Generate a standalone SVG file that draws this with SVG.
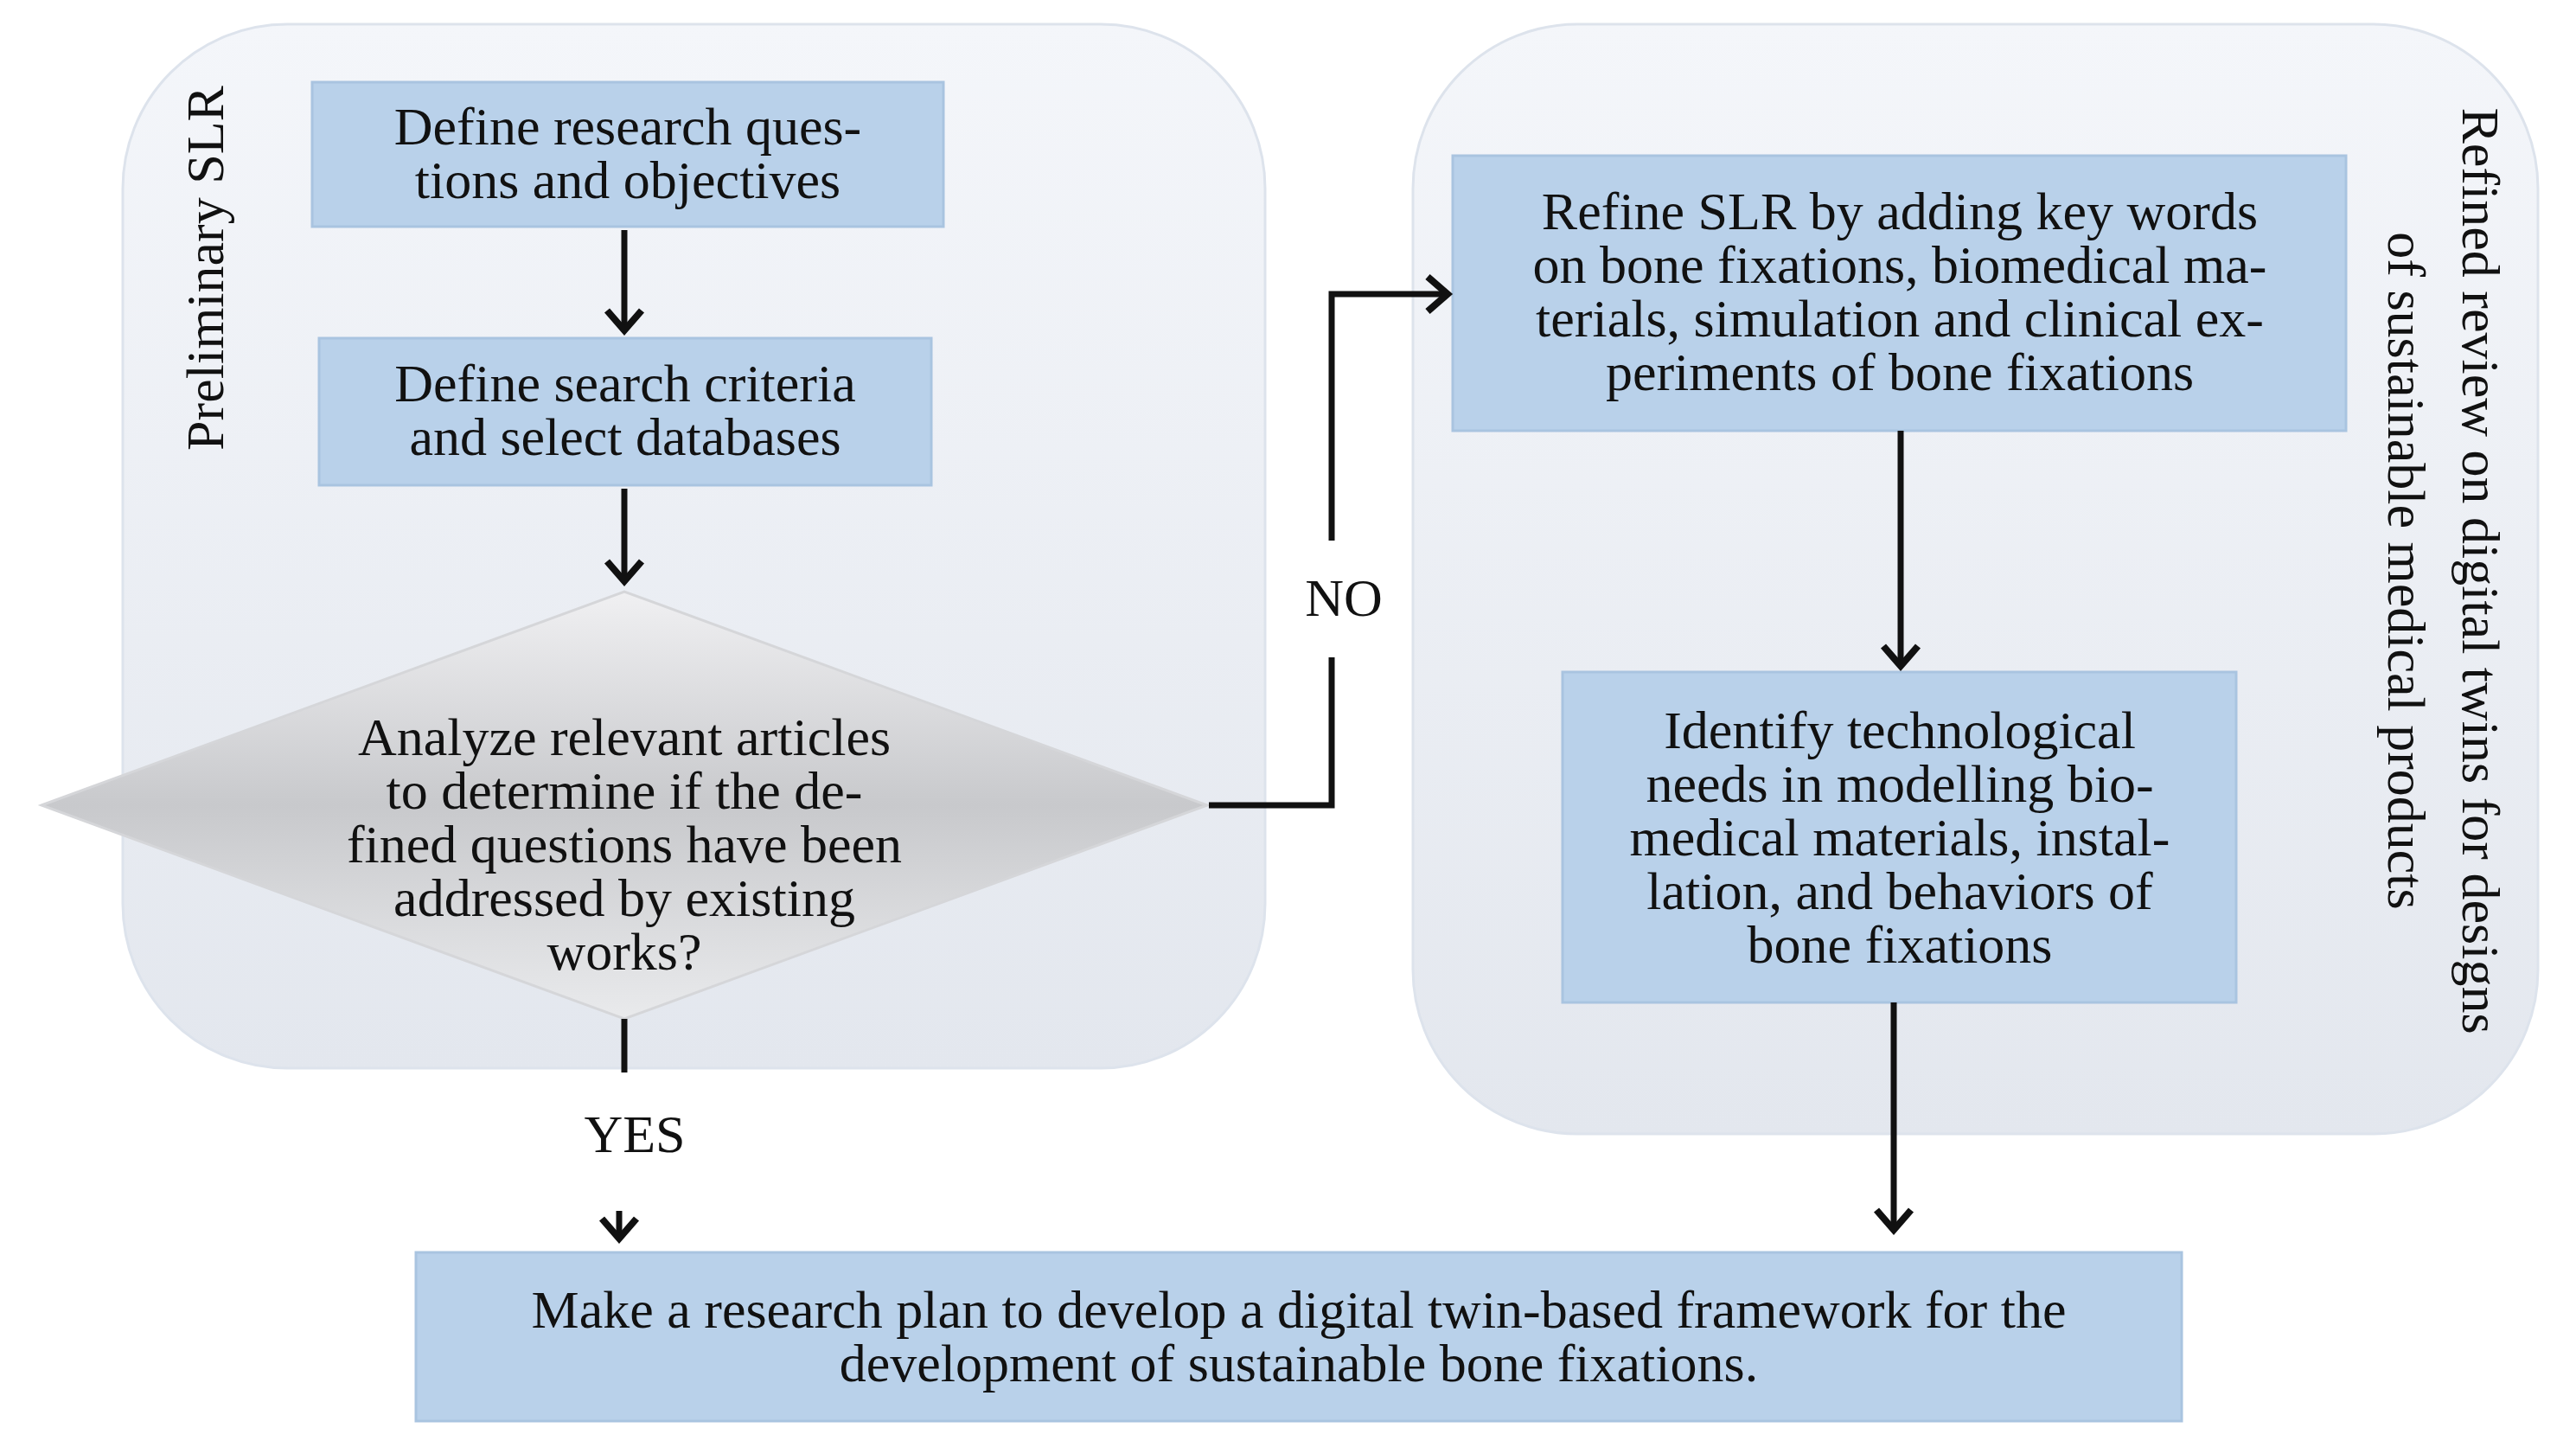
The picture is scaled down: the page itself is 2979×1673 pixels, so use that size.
<svg xmlns="http://www.w3.org/2000/svg" width="2979" height="1673" viewBox="0 0 2979 1673">
<style>
text{font-family:"Liberation Serif","DejaVu Serif",serif;font-size:62px;fill:#111;text-anchor:middle}
.box{fill:#b9d1ea;stroke:#a9c4e0;stroke-width:3}
.panel{fill:url(#pg);stroke:#dde3ec;stroke-width:3}
.ln{fill:none;stroke:#111;stroke-width:7}
</style>
<defs>
<linearGradient id="pg" x1="0" y1="0" x2="0" y2="1"><stop offset="0" stop-color="#f4f6fa"/><stop offset="1" stop-color="#e3e7ee"/></linearGradient>
<linearGradient id="dg" x1="0" y1="0" x2="0" y2="1"><stop offset="0" stop-color="#f0f0f2"/><stop offset="0.5" stop-color="#c8c9cc"/><stop offset="1" stop-color="#e9eaec"/></linearGradient>
<marker id="ah" markerWidth="12" markerHeight="12" refX="9" refY="6" orient="auto" markerUnits="userSpaceOnUse" viewBox="0 0 12 12" style="overflow:visible"><path d="M-14,-14 L9,6 L-14,26" fill="none" stroke="#111" stroke-width="8"/></marker>
</defs>
<g id="panel-left"><rect class="panel" x="142" y="28" width="1321" height="1207" rx="190"/>
<text transform="translate(258,310) rotate(-90)">Preliminary SLR</text></g>
<g id="panel-right"><rect class="panel" x="1634" y="28" width="1301" height="1283" rx="190"/>
<text transform="translate(2848,660) rotate(90)">Refined review on digital twins for designs</text>
<text transform="translate(2762,660) rotate(90)">of sustainable medical products</text></g>
<g id="box1"><rect class="box" x="361" y="95" width="730" height="167"/>
<text x="726" y="167">Define research ques-</text><text x="726" y="229">tions and objectives</text></g>
<g id="box2"><rect class="box" x="369" y="391" width="708" height="170"/>
<text x="723" y="464">Define search criteria</text><text x="723" y="526">and select databases</text></g>
<g id="decision"><polygon points="48,931 722,684 1396,931 722,1178" fill="url(#dg)" stroke="#d5d6d9" stroke-width="3"/>
<text x="722" y="873">Analyze relevant articles</text><text x="722" y="935">to determine if the de-</text><text x="722" y="997">fined questions have been</text><text x="722" y="1059">addressed by existing</text><text x="722" y="1121">works?</text></g>
<g id="box3"><rect class="box" x="1680" y="180" width="1033" height="318"/>
<text x="2197" y="265">Refine SLR by adding key words</text><text x="2197" y="327">on bone fixations, biomedical ma-</text><text x="2197" y="389">terials, simulation and clinical ex-</text><text x="2197" y="451">periments of bone fixations</text></g>
<g id="box4"><rect class="box" x="1807" y="777" width="779" height="382"/>
<text x="2197" y="865">Identify technological</text><text x="2197" y="927">needs in modelling bio-</text><text x="2197" y="989">medical materials, instal-</text><text x="2197" y="1051">lation, and behaviors of</text><text x="2197" y="1113">bone fixations</text></g>
<g id="box5"><rect class="box" x="481" y="1448" width="2042" height="195"/>
<text x="1502" y="1535">Make a research plan to develop a digital twin-based framework for the</text><text x="1502" y="1597">development of sustainable bone fixations.</text></g>
<g id="connectors">
<path class="ln" d="M722,266 V382" marker-end="url(#ah)"/>
<path class="ln" d="M722,565 V672" marker-end="url(#ah)"/>
<path class="ln" d="M1398,931 H1540 V760"/>
<path class="ln" d="M1540,625 V340 H1674" marker-end="url(#ah)"/>
<path class="ln" d="M722,1178 V1240"/>
<path class="ln" d="M716,1400 L716,1432" marker-end="url(#ah)"/>
<path class="ln" d="M2198,498 V770" marker-end="url(#ah)"/>
<path class="ln" d="M2190,1159 V1422" marker-end="url(#ah)"/>
<text x="1554" y="712">NO</text>
<text x="734" y="1332">YES</text>
</g>
</svg>
